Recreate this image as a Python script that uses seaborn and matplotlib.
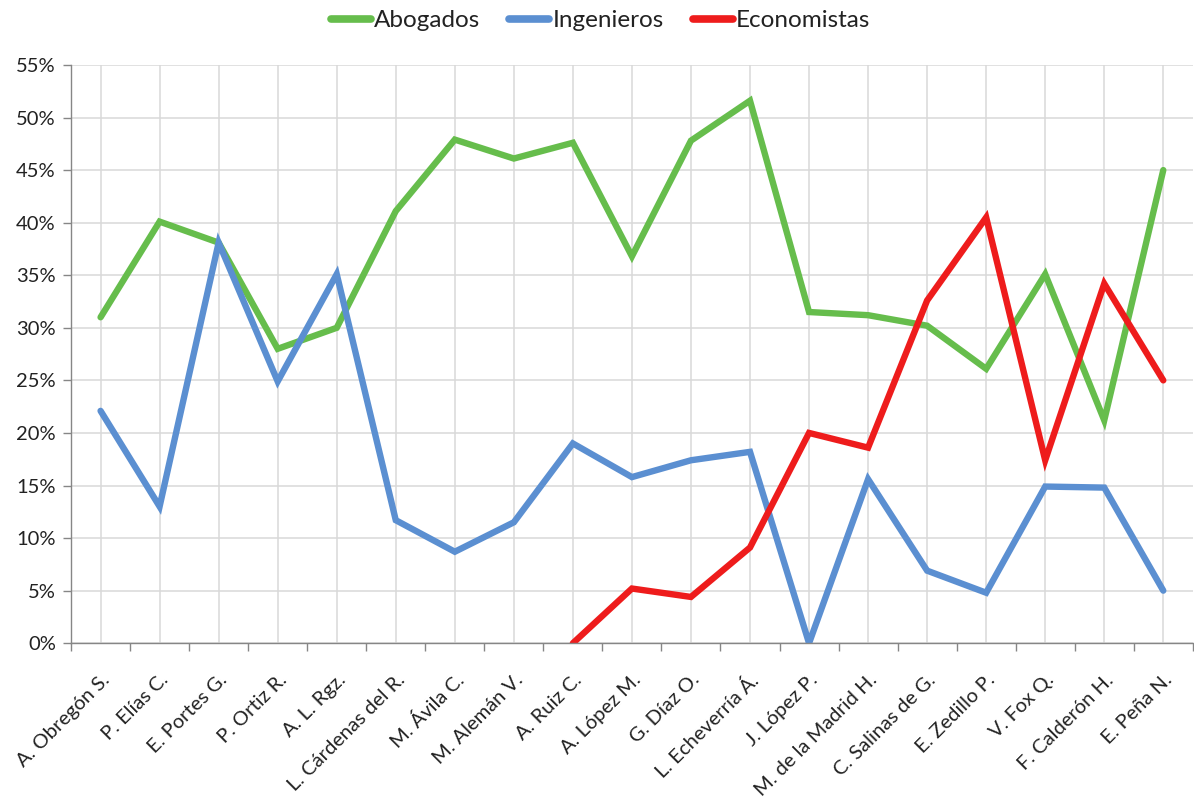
import seaborn as sns
import pandas as pd
import numpy as np
import matplotlib
import matplotlib.pyplot as plt
from matplotlib.ticker import FixedLocator, PercentFormatter

presidentes = [
    "A. Obregón S.", "P. Elías C.", "E. Portes G.", "P. Ortiz R.", "A. L. Rgz.",
    "L. Cárdenas del R.", "M. Ávila C.", "M. Alemán V.", "A. Ruiz C.", "A. López M.",
    "G. Díaz O.", "L. Echeverría Á.", "J. López P.", "M. de la Madrid H.",
    "C. Salinas de G.", "E. Zedillo P.", "V. Fox Q.", "F. Calderón H.", "E. Peña N.",
]
abogados = [31.0, 40.1, 38.1, 28.0, 30.0, 41.1, 47.9, 46.1, 47.6, 36.8,
            47.8, 51.6, 31.5, 31.2, 30.2, 26.1, 35.1, 21.2, 45.0]
ingenieros = [22.1, 13.0, 38.1, 24.9, 35.1, 11.7, 8.7, 11.5, 19.0, 15.8,
              17.4, 18.2, 0.0, 15.6, 6.9, 4.8, 14.9, 14.8, 5.0]
economistas = [np.nan] * 8 + [0.0, 5.2, 4.4, 9.1, 20.0, 18.6, 32.6, 40.5, 17.4, 34.2, 25.0]

series = ["Abogados", "Ingenieros", "Economistas"]
colores = ["#66bd4c", "#5b8fd1", "#ee1c1c"]

df = pd.DataFrame({
    "Presidente": presidentes * 3,
    "Serie": np.repeat(series, len(presidentes)),
    "Valor": abogados + ingenieros + economistas,
})

sns.set_style("white")
plt.rcParams["font.family"] = ["Lato", "DejaVu Sans"]

fig = plt.figure(figsize=(11.94, 8.02), dpi=100)
ax = fig.add_axes([0.0595, 0.198, 0.9395, 0.721])

sns.lineplot(
    data=df, x="Presidente", y="Valor", hue="Serie", hue_order=series,
    palette=colores, linewidth=4.6, sort=False, ax=ax, legend=False,
    solid_capstyle="round", solid_joinstyle="miter",
)

ax.set_xlim(-0.5, len(presidentes) - 0.5)
ax.set_ylim(0, 55)
ax.set_yticks(np.arange(0, 56, 5))
ax.yaxis.set_major_formatter(PercentFormatter(decimals=0))
ax.set_xticks(range(len(presidentes)))
ax.set_xticklabels(presidentes, rotation=45, ha="right", rotation_mode="anchor",
                   fontsize=14.5, color="#222222")
ax.xaxis.set_minor_locator(FixedLocator(np.arange(-0.5, len(presidentes), 1)))
ax.tick_params(axis="x", which="major", length=0, pad=20)
ax.tick_params(axis="x", which="minor", length=6, color="#868686", width=1, direction="out", bottom=True)
ax.tick_params(axis="y", length=6, color="#868686", width=1, direction="out", left=True,
               labelsize=14.5, labelcolor="#222222", pad=5)
ax.set_xlabel("")
ax.set_ylabel("")

ax.grid(True, axis="both", color="#d9d9d9", linewidth=1.1)
ax.set_axisbelow(True)
for s in ["top", "right"]:
    ax.spines[s].set_visible(False)
for s in ["left", "bottom"]:
    ax.spines[s].set_color("#868686")
    ax.spines[s].set_linewidth(1)

handles = [plt.Line2D([], [], color=c, linewidth=5.5, solid_capstyle="round") for c in colores]
fig.legend(handles, series, loc="center", bbox_to_anchor=(0.503, 0.974), ncol=3,
           frameon=False, fontsize=17.5, handlelength=1.65, handletextpad=0.12,
           columnspacing=1.2, labelcolor="#222222")

fig.savefig("out.png", dpi=100)
